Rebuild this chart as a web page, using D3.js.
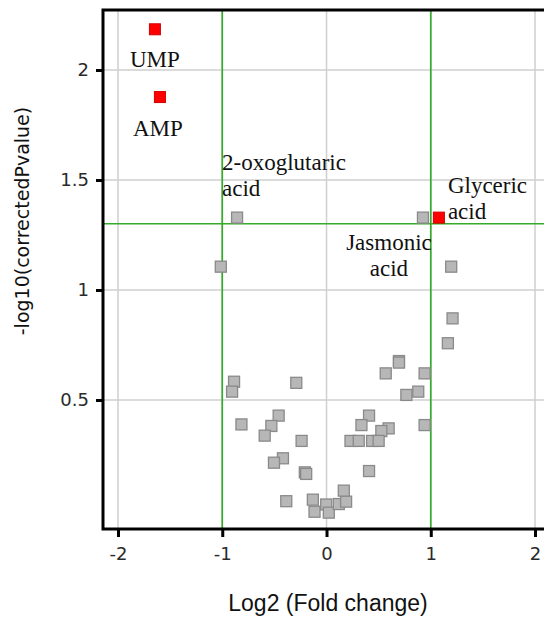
<!DOCTYPE html>
<html>
<head>
<meta charset="utf-8">
<script src="https://cdn.jsdelivr.net/npm/d3@7"></script>
<style>
  html, body { margin: 0; padding: 0; background: #fff; }
  svg { display: block; }
</style>
</head>
<body>
<svg id="chart" width="544" height="619"></svg>
<script>
// Volcano plot: log2 fold change vs -log10(corrected p-value)

// Metabolites not passing both thresholds
const fcAll = [
  -0.858, -1.014, 0.925, 1.196, 1.209, 1.164, 0.695, 0.695, 0.568, 0.941,
  0.880, 0.766, -0.290, 0.941, 0.408, 0.335, 0.596, 0.526, 0.230, 0.309,
  0.437, 0.500, 0.408, -0.239, -0.459, -0.529, -0.593, -0.418, -0.504, -0.208,
  -0.195, -0.386, -0.131, -0.115, -0.003, 0.022, 0.118, 0.188, 0.166, -0.887,
  -0.906, -0.816
];
const pAll = [
  1.329, 1.106, 1.329, 1.106, 0.871, 0.758, 0.677, 0.670, 0.621, 0.621,
  0.538, 0.523, 0.578, 0.386, 0.429, 0.386, 0.371, 0.359, 0.314, 0.314,
  0.314, 0.314, 0.177, 0.314, 0.429, 0.382, 0.338, 0.235, 0.215, 0.171,
  0.164, 0.040, 0.047, -0.008, 0.025, -0.012, 0.027, 0.038, 0.088, 0.583,
  0.538, 0.389
];

// Significant metabolites (highlighted)
const sigNames = ["UMP", "AMP", "Glyceric acid"];
const sigFc = [-1.646, -1.598, 1.078];
const sigP = [2.185, 1.877, 1.329];

// Annotated metabolites: name lines and the point each one belongs to
const annotLines = [["UMP"], ["AMP"], ["2-oxoglutaric", "acid"], ["Glyceric", "acid"], ["Jasmonic", "acid"]];
const annotFc = [-1.646, -1.598, -0.858, 1.078, 0.925];
const annotP = [2.185, 1.877, 1.329, 1.329, 1.329];

// Axis ticks and thresholds
const xTicks = [-2, -1, 0, 1, 2];
const yTicks = [0.5, 1, 1.5, 2];
const fcThresholds = [-1, 1];
const pThreshold = 1.301;

const svg = d3.select("#chart");

const plotLeft = 103, plotTop = 10, plotBottom = 529;
const x = d3.scaleLinear().domain([-2.144, 2.2]).range([plotLeft, plotLeft + 4.344 * 104.25]);
const y = d3.scaleLinear().domain([-0.0864, 2.2727]).range([plotBottom, plotTop]);

const plotRight = x.range()[1];

// Grid
const grid = svg.append("g").attr("stroke", "#cfcfcf").attr("stroke-width", 1.5);
grid.selectAll("line.gx").data(xTicks).join("line")
  .attr("x1", d => x(d)).attr("x2", d => x(d))
  .attr("y1", plotTop).attr("y2", plotBottom);
grid.selectAll("line.gy").data(yTicks).join("line")
  .attr("x1", plotLeft).attr("x2", plotRight)
  .attr("y1", d => y(d)).attr("y2", d => y(d));

// Threshold lines
const thr = svg.append("g").attr("stroke", "#36ab2b").attr("stroke-width", 1.7);
thr.selectAll("line.v").data(fcThresholds).join("line")
  .attr("x1", d => x(d)).attr("x2", d => x(d))
  .attr("y1", plotTop).attr("y2", plotBottom);
thr.append("line")
  .attr("x1", plotLeft).attr("x2", plotRight)
  .attr("y1", y(pThreshold)).attr("y2", y(pThreshold));

// Axes
const xAxis = d3.axisBottom(x).tickValues(xTicks).tickSize(8).tickPadding(10)
  .tickFormat(d => String(d));
const yAxis = d3.axisLeft(y).tickValues(yTicks).tickSize(7).tickPadding(7)
  .tickFormat(d => String(d));

const gx = svg.append("g").attr("transform", `translate(0,${plotBottom})`).call(xAxis);
const gy = svg.append("g").attr("transform", `translate(${plotLeft},0)`).call(yAxis);
[gx, gy].forEach(g => {
  g.select(".domain").remove();
  g.selectAll(".tick line").attr("stroke", "#000").attr("stroke-width", 3);
  g.selectAll(".tick text")
    .attr("fill", "#2a2a2a")
    .style("font-family", "'DejaVu Sans', sans-serif")
    .style("font-size", "18px");
});

// Frame: left, bottom and top edges
const frame = svg.append("g").attr("stroke", "#000").attr("stroke-width", 3).attr("fill", "none");
frame.append("path").attr("d", `M${plotRight},${plotTop}H${plotLeft}V${plotBottom}H${plotRight}`);

// Points
const sq = 11;
svg.append("g").selectAll("rect").data(fcAll.map((f, i) => [f, pAll[i]])).join("rect")
  .attr("x", d => x(d[0]) - sq / 2).attr("y", d => y(d[1]) - sq / 2)
  .attr("width", sq).attr("height", sq)
  .attr("fill", "#b7b7b7").attr("stroke", "#8a8a8a").attr("stroke-width", 1.3);

svg.append("g").selectAll("rect").data(sigFc.map((f, i) => [f, sigP[i], sigNames[i]])).join("rect")
  .attr("x", d => x(d[0]) - sq / 2).attr("y", d => y(d[1]) - sq / 2)
  .attr("width", sq).attr("height", sq)
  .attr("fill", "#ff0000").attr("stroke", "#d00000").attr("stroke-width", 1);

// Annotation placement relative to each point: [dx, first baseline dy, anchor]
const annotPlace = [[0, 38, "middle"], [-2, 39, "middle"], [-15, -48, "start"], [9, -25, "start"], [-34, 32, "middle"]];
const lineGap = 26.5;
const labels = svg.append("g")
  .style("font-family", "'Liberation Serif', 'Times New Roman', serif")
  .style("font-size", "23px").attr("fill", "#111");
annotLines.forEach((lines, i) => {
  const [dx, dy, anchor] = annotPlace[i];
  const t = labels.append("text")
    .attr("text-anchor", anchor)
    .attr("x", x(annotFc[i]) + dx)
    .attr("y", y(annotP[i]) + dy);
  lines.forEach((s, j) => {
    t.append("tspan").attr("x", x(annotFc[i]) + dx).attr("dy", j === 0 ? 0 : lineGap).text(s);
  });
});

// Axis titles
svg.append("text")
  .attr("x", 328).attr("y", 611)
  .attr("text-anchor", "middle")
  .style("font-family", "'Liberation Sans', Arial, sans-serif")
  .style("font-size", "23px").attr("fill", "#111")
  .text("Log2 (Fold change)");

svg.append("text")
  .attr("transform", "translate(29,221) rotate(-90)")
  .attr("text-anchor", "middle")
  .style("font-family", "'DejaVu Sans', sans-serif")
  .style("font-size", "19px").attr("fill", "#111")
  .text("-log10(correctedPvalue)");
</script>
</body>
</html>
